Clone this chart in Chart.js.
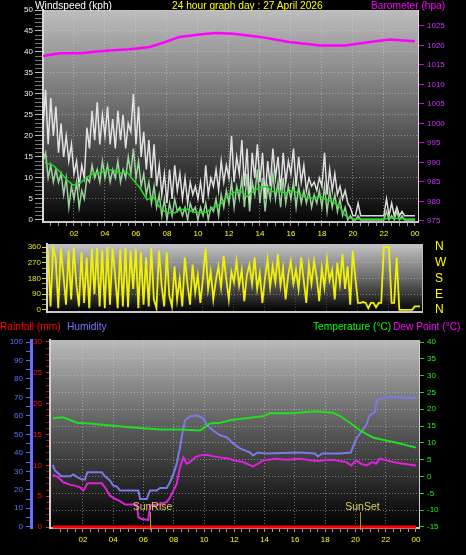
<!DOCTYPE html>
<html>
<head>
<meta charset="utf-8">
<script src="https://cdn.jsdelivr.net/npm/chart.js@4.4.1/dist/chart.umd.min.js"></script>
<style>
  body { margin: 0; background: #000; width: 466px; height: 555px; overflow: hidden; position: relative;
         font-family: "Liberation Sans", Arial, sans-serif; }
  canvas { position: absolute; left: 0; }
  .title { position: absolute; font-size: 10.2px; line-height: 11px; white-space: nowrap; }
</style>
</head>
<body>
<canvas id="wind-chart" width="466" height="245" style="top:0"></canvas>
<canvas id="dir-chart" width="466" height="80" style="top:238px"></canvas>
<canvas id="temp-chart" width="466" height="237" style="top:318px"></canvas>

<div class="title" style="left:35px;top:0;color:#fff">Windspeed (kph)</div>
<div class="title" style="left:172px;top:0;color:#ffff00">24 hour graph day : 27 April 2026</div>
<div class="title" style="left:371px;top:0;color:#ff00ff">Barometer (hpa)</div>
<div class="title" style="left:0;top:321px;color:#ff0000">Rainfall (mm)</div>
<div class="title" style="left:67px;top:321px;color:#7878ff">Humidity</div>
<div class="title" style="left:313px;top:321px;color:#00ff00">Temperature (°C)</div>
<div class="title" style="left:393px;top:321px;color:#ff00ff">Dew Point (°C)</div>

<script>
// ---- data (hours since midnight) ----
const hourTicks = [2, 4, 6, 8, 10, 12, 14, 16, 18, 20, 22, 24];
const hourLabels = ['02', '04', '06', '08', '10', '12', '14', '16', '18', '20', '22', '00'];

// wind samples every 10 minutes
const windStep = 1 / 6;
const windGust = [
    22, 31, 18, 29, 20, 27,  16, 23, 15, 20, 14, 18,  11, 14, 8, 13, 10, 22,  17, 26, 19, 28, 18, 25,
    20, 27, 18, 24, 17, 26,  19, 25, 17, 23, 21, 30,  18, 27, 15, 21, 12, 19,  10, 18, 8, 13, 6, 11,
    4, 12, 5, 13, 7, 11,     5, 10, 4, 9, 6, 8,       5, 9, 4, 13, 6, 10,      8, 12, 7, 14, 9, 13,
    10, 20, 9, 15, 11, 19,   8, 17, 4, 16, 10, 18,    9, 16, 5, 14, 8, 17,     10, 15, 7, 16, 9, 14,
    11, 17, 8, 15, 9, 13,    7, 10, 8, 9, 7, 10,      8, 16, 6, 12, 7, 11,     6, 8, 5, 7, 4, 3,
    1, 1, 4, 1, 1, 1,        1, 1, 1, 1, 1, 1,        1, 5, 1, 4, 1, 3,        1, 2, 1, 1, 1, 1,
    1
];
const windSpeed = [
    14, 16, 10, 13, 9, 12,   9, 11, 6, 10, 3, 8,      5, 9, 3, 7, 5, 10,       9, 13, 10, 12, 9, 14,
    10, 13, 9, 12, 10, 14,   9, 12, 10, 15, 11, 17,   10, 14, 8, 11, 6, 9,     4, 8, 3, 6, 1, 5,
    0, 4, 1, 5, 2, 3,        1, 3, 0, 4, 2, 3,        0, 3, 1, 4, 0, 3,        2, 5, 1, 6, 3, 7,
    4, 9, 3, 8, 5, 10,       3, 11, 2, 9, 6, 12,      4, 10, 2, 8, 5, 11,      5, 9, 3, 10, 4, 8,
    5, 9, 3, 8, 4, 7,        4, 7, 3, 6, 4, 7,        3, 8, 2, 7, 3, 6,        2, 5, 1, 3, 0, 1,
    0, 0, 1, 0, 0, 0,        0, 0, 0, 0, 0, 0,        0, 2, 0, 1, 0, 2,        0, 1, 0, 0, 0, 0,
    0
];
const avgHours = [0.13, 0.65, 1.1, 1.55, 1.94, 2.39, 2.84, 3.35, 3.68, 4.13, 4.52, 4.97, 5.42, 5.94, 6.26,
    6.71, 7.1, 7.55, 8, 8.52, 8.84, 9.29, 9.68, 10.13, 10.58, 10.97, 11.42, 11.87, 12.26, 12.7, 13.16,
    13.55, 14, 14.45, 14.84, 15.29, 15.74, 16.13, 16.58, 17.03, 17.42, 17.87, 18.32, 18.71, 19.16,
    19.35, 19.61, 20, 22, 22.5, 23, 24];
const avgSpeed = [13.6, 13, 11.4, 9.5, 8.3, 8.8, 10.2, 11.2, 11.2, 11.9, 11.9, 11.2, 11.4, 9, 7.6,
    4.8, 5.5, 2.9, 1.7, 1.7, 2.4, 2.6, 1.9, 1.7, 1.9, 2.9, 3.6, 5.5, 6.4, 7.1, 5.5,
    6.7, 7.9, 7.9, 6.7, 6.7, 6.4, 7.1, 6, 5.2, 5.2, 5.5, 4.8, 4.3, 3.1,
    1.7, 0.7, 0.2, 0.2, 0.5, 0.3, 0.2];
const baroHours = [0, 1.1, 2.4, 3.2, 4.3, 5.6, 6.9, 7.9, 8.8, 10.1, 11.1, 12.3, 14, 15.9, 17.9, 19.5, 21.1, 22.4, 24];
const baroHpa = [1017.3, 1018, 1018, 1018.3, 1018.7, 1019, 1019.6, 1020.9, 1022.2, 1022.8, 1023.2, 1023,
    1022.2, 1020.9, 1020, 1020, 1020.9, 1021.5, 1021.1];
const windTicks = [0, 5, 10, 15, 20, 25, 30, 35, 40, 45, 50];
const baroTicks = [975, 980, 985, 990, 995, 1000, 1005, 1010, 1015, 1020, 1025];

// wind direction every 10 minutes (degrees)
const windDir = [
    340, 20, 355, 300, 10, 350,   200, 30, 340, 60, 355, 150,   20, 330, 40, 300, 10, 350,
    90, 355, 20, 340, 10, 360,    30, 350, 200, 10, 345, 20,    355, 15, 340, 120, 350, 10,
    330, 30, 300, 20, 355, 60,    10, 340, 140, 20, 330, 80,    20, 250, 60, 180, 20, 300,
    150, 30, 260, 100, 200, 40,   180, 350, 120, 220, 60, 170,   250, 130, 310, 180, 60, 220,
    160, 280, 140, 230, 50, 200,  260, 150, 300, 120, 210, 40,   180, 290, 130, 250, 160, 320,
    140, 240, 60, 200, 280, 150,  230, 120, 300, 170, 40, 260,   150, 280, 190, 50, 240, 130,
    290, 170, 230, 60, 270, 150,  320, 120, 250, 30, 340, 180,   40, 40, 45, 40, 10, 40,
    40, 15, 40, 40, 360, 360,     360, 40, 40, 300, 0, 0,        0, 0, 0, 0, 20, 20,
    20
];
const dirTicks = [0, 90, 180, 270, 360];
const compassLabels = ['N', 'E', 'S', 'W', 'N'];

const humHours = [0, 0.15, 0.59, 1.14, 1.36, 1.63, 1.92, 2.13, 2.29, 3.24, 3.45, 3.78, 4.0, 4.23, 4.45, 5.66,
    5.77, 6.21, 6.43, 6.87, 7.09, 7.53, 7.75, 7.97, 8.19, 8.41, 8.52, 8.74, 9.07, 9.53, 9.93, 10.19,
    10.59, 11.05, 11.51, 11.91, 12.37, 13.03, 13.23, 13.56, 14.02, 16.33, 17.32, 17.52, 17.79, 18.98,
    19.7, 20.05, 20.71, 20.94, 21.27, 21.42, 21.6, 22.48, 24];
const humidity = [33.5, 30.4, 27.3, 27.3, 28.3, 26.8, 25.5, 25.5, 29.5, 29.5, 27.3, 25, 22.3, 21.7, 19.6, 19.6,
    15, 15, 19.6, 19.6, 21, 21, 24.1, 28.6, 34, 43, 48.5, 57.6, 59.8, 60.3, 58.7, 54.9,
    52.2, 49.5, 48.4, 45.1, 42.4, 40.2, 38.6, 40.2, 39.7, 40.2, 39.7, 38, 39.7, 39.7,
    40.2, 47.7, 54.9, 60.3, 62.1, 68.5, 69.4, 70.3, 69.6];
const tempHours = [0, 0.68, 1.6, 2.46, 3.12, 5.3, 7.09, 8.41, 9.73, 10.39, 11.05, 11.91, 13.89, 14.35, 15.87,
    17.32, 18.51, 18.98, 19.64, 20.3, 21.16, 22.02, 22.94, 24];
const temperature = [17.3, 17.6, 16, 15.8, 15.5, 14.6, 14, 14, 13.7, 15.8, 16, 16.9, 17.9, 18.8, 18.8,
    19.4, 19, 18, 16, 13.7, 11.6, 10.7, 9.8, 8.6];
const dewHours = [0, 0.37, 0.7, 1.14, 1.47, 1.8, 2.02, 2.13, 2.29, 3.24, 3.45, 3.78, 4.11, 4.45, 4.78, 5.55,
    5.66, 5.88, 6.32, 6.43, 6.98, 7.53, 7.75, 7.97, 8.19, 8.41, 8.63, 8.85, 9.07, 9.4, 9.73, 10.17,
    10.61, 11.05, 11.71, 11.91, 12.57, 13.23, 13.56, 13.89, 14.77, 15.43, 16.31, 17.41, 18.51, 19.39,
    19.72, 20.05, 20.38, 20.71, 21.15, 21.37, 21.6, 22.04, 22.48, 23.14, 24];
const dewPoint = [0.5, -0.2, -1.7, -2.4, -2.7, -3.2, -4.2, -3.4, -2, -2, -3.2, -5.7, -6.6, -7.3, -8.3, -8.3,
    -12.1, -12.6, -12.9, -8.6, -8.3, -7.6, -6.2, -4.2, -2.2, 2.8, 5.7, 3.8, 4.3, 5.7, 6.3, 6.5,
    6, 5.7, 5.3, 4.8, 4.3, 3, 3.8, 4.8, 5.3, 5, 5.3, 4.6, 5, 4.3,
    3.3, 4.8, 3.8, 3.3, 4.3, 3.8, 5.3, 4.8, 4.3, 3.8, 3.3];
const rainHours = [0, 24];
const rainfall = [0, 0];
const humTicks = [0, 10, 20, 30, 40, 50, 60, 70, 80, 90, 100];
const rainTicks = [0, 5, 10, 15, 20, 25, 30];
const tempTicks = [-15, -10, -5, 0, 5, 10, 15, 20, 25, 30, 35, 40];
const sunEvents = [
    { label: 'SunRise', hour: 6.43 },
    { label: 'SunSet', hour: 20.3 }
];

// ---- helpers ----
const FONT = { family: 'Liberation Sans', size: 8 };
const DOTS = 'rgba(220, 220, 220, 0.45)';

const pairs = (xs, ys) => ys.map((y, i) => ({ x: xs[i], y }));
const stepped = (step, ys) => ys.map((y, i) => ({ x: i * step, y }));

// major ticks with labels plus unlabeled minor ticks
function tickSet(majors, minorStep, from, to) {
    return scale => {
        const values = new Set(majors);
        if (minorStep) {
            for (let v = from; v <= to + 1e-9; v += minorStep) values.add(Math.round(v * 100) / 100);
        }
        scale.ticks = [...values].sort((a, b) => a - b).map(v => ({ value: v }));
    };
}
const isMajor = (majors, v) => majors.includes(v);

const plotBackground = {
    id: 'plotBackground',
    beforeDraw(chart, args, opts) {
        const { ctx, chartArea: a } = chart;
        const g = ctx.createLinearGradient(0, a.top, 0, a.bottom);
        opts.stops.forEach(([p, c]) => g.addColorStop(p, c));
        ctx.save();
        ctx.fillStyle = g;
        ctx.fillRect(a.left, a.top, a.right - a.left, a.bottom - a.top);
        ctx.restore();
    }
};

const sunMarkers = {
    id: 'sunMarkers',
    afterDatasetsDraw(chart) {
        const { ctx, chartArea: a, scales: { x } } = chart;
        ctx.save();
        sunEvents.forEach(ev => {
            const px = Math.round(x.getPixelForValue(ev.hour)) + 0.5;
            ctx.strokeStyle = '#a89a30';
            ctx.lineWidth = 1;
            ctx.beginPath();
            ctx.moveTo(px, a.bottom - 16);
            ctx.lineTo(px, a.bottom + 2);
            ctx.stroke();
            ctx.fillStyle = '#ddd060';
            ctx.font = '10.5px "Liberation Sans"';
            ctx.textAlign = 'center';
            ctx.textBaseline = 'middle';
            ctx.fillText(ev.label, px + 2, a.bottom - 21);
        });
        ctx.restore();
    }
};

function hourAxis(min, max, height) {
    return {
        type: 'linear',
        min: min,
        max: max,
        afterBuildTicks: tickSet(hourTicks, 0.5, 0.5, 24),
        afterFit: s => { s.height = height; },
        ticks: {
            autoSkip: false, maxRotation: 0, color: '#ffff00', font: FONT, padding: 3,
            callback: v => (isMajor(hourTicks, v) ? hourLabels[hourTicks.indexOf(v)] : '')
        },
        grid: {
            color: c => (c.tick && isMajor(hourTicks, c.tick.value) && c.tick.value < 24 ? DOTS : 'transparent'),
            tickColor: '#9a9a9a', tickLength: 4
        },
        border: { color: '#c8c8c8', width: 2, dash: [1, 2] }
    };
}

const baseOptions = {
    responsive: false,
    animation: false,
    events: [],
    elements: { point: { radius: 0 }, line: { tension: 0 } },
    plugins: { legend: { display: false }, tooltip: { enabled: false } }
};

// ---- wind speed + barometer ----
new Chart(document.getElementById('wind-chart'), {
    type: 'line',
    data: {
        datasets: [
            { data: pairs(baroHours, baroHpa), yAxisID: 'y1', borderColor: '#ff00ff', borderWidth: 2.5, order: 1 },
            { data: pairs(avgHours, avgSpeed), yAxisID: 'y', borderColor: '#22dd22', borderWidth: 1.5, order: 2 },
            { data: stepped(windStep, windSpeed), yAxisID: 'y', borderColor: 'rgba(175, 240, 175, 0.85)', borderWidth: 1.5, order: 3 },
            { data: stepped(windStep, windGust), yAxisID: 'y', borderColor: 'rgba(238, 238, 238, 0.92)', borderWidth: 1.5, order: 4 }
        ]
    },
    options: {
        ...baseOptions,
        layout: { padding: { top: 10 } },
        plugins: { ...baseOptions.plugins, plotBackground: { stops: [[0, '#bdbdbd'], [0.45, '#6e6e6e'], [1, '#060606']] } },
        scales: {
            x: hourAxis(0, 24.2, 23),
            y: {
                position: 'left', min: -0.5, max: 50,
                afterBuildTicks: tickSet(windTicks, 1, 0, 50),
                afterFit: s => { s.width = 43; },
                ticks: { autoSkip: false, color: '#e6ecff', font: FONT, padding: 2,
                         callback: v => (isMajor(windTicks, v) ? String(v) : '') },
                grid: { color: c => (c.tick && isMajor(windTicks, c.tick.value) && c.tick.value > 0 ? DOTS : 'transparent'),
                        tickColor: c => (c.tick && isMajor(windTicks, c.tick.value) ? '#bbbbbb' : '#777777'), tickLength: 8 },
                border: { color: '#d8d8d8', width: 2, dash: [1, 2] }
            },
            y1: {
                position: 'right', min: 974.7, max: 1029.1,
                afterBuildTicks: tickSet(baroTicks),
                afterFit: s => { s.width = 48; },
                ticks: { autoSkip: false, color: '#cc33ff', font: FONT, padding: 3, callback: v => String(v) },
                grid: { drawOnChartArea: false, tickColor: '#dd00dd', tickLength: 6 },
                border: { color: '#e6d0e6', width: 1 }
            }
        }
    },
    plugins: [plotBackground]
});

// ---- wind direction ----
new Chart(document.getElementById('dir-chart'), {
    type: 'line',
    data: {
        datasets: [
            { data: stepped(windStep, windDir), yAxisID: 'y', borderColor: '#f2f200', borderWidth: 1.8 }
        ]
    },
    options: {
        ...baseOptions,
        layout: { padding: { top: 6 } },
        plugins: { ...baseOptions.plugins, plotBackground: { stops: [[0, '#c4c4c4'], [0.5, '#6a6a6a'], [1, '#000000']] } },
        scales: {
            x: {
                type: 'linear', min: -0.06, max: 24.13,
                afterBuildTicks: tickSet(hourTicks),
                afterFit: s => { s.height = 6; },
                ticks: { display: false },
                grid: { color: c => (c.tick && c.tick.value < 24 ? 'rgba(220,220,220,0.25)' : 'transparent'), drawTicks: false },
                border: { color: '#c8c8c8', width: 2, dash: [1, 2] }
            },
            y: {
                position: 'left', min: -12, max: 378,
                afterBuildTicks: tickSet(dirTicks, 30, 0, 360),
                afterFit: s => { s.width = 47; },
                ticks: { autoSkip: false, color: '#e4e400', font: FONT, padding: 1,
                         callback: v => (isMajor(dirTicks, v) ? String(v) : '') },
                grid: { color: c => (c.tick && isMajor(dirTicks, c.tick.value) && c.tick.value > 0 ? DOTS : 'transparent'),
                        tickColor: c => (c.tick && isMajor(dirTicks, c.tick.value) ? '#e4e400' : '#9a9a00'), tickLength: 5 },
                border: { color: '#d8d8d8', width: 2, dash: [1, 2] }
            },
            y2: {
                position: 'right', min: -12, max: 378,
                afterBuildTicks: tickSet(dirTicks),
                afterFit: s => { s.width = 44; },
                ticks: { autoSkip: false, color: '#ffff00', font: { family: 'Liberation Sans', size: 12, lineHeight: 1 }, padding: 0,
                         callback: v => compassLabels[dirTicks.indexOf(v)] },
                grid: { drawOnChartArea: false, tickColor: 'transparent', tickLength: 13 },
                border: { color: '#bbbbbb', width: 1 }
            }
        }
    },
    plugins: [plotBackground]
});

// ---- rainfall, humidity, temperature, dew point ----
new Chart(document.getElementById('temp-chart'), {
    type: 'line',
    data: {
        datasets: [
            { data: pairs(rainHours, rainfall), yAxisID: 'yRain', borderColor: '#ff0000', borderWidth: 3, clip: false },
            { data: pairs(tempHours, temperature), yAxisID: 'yTemp', borderColor: '#22dd22', borderWidth: 2 },
            { data: pairs(dewHours, dewPoint), yAxisID: 'yTemp', borderColor: '#dd22dd', borderWidth: 2 },
            { data: pairs(humHours, humidity), yAxisID: 'yHum', borderColor: '#7a7ae6', borderWidth: 2 }
        ]
    },
    options: {
        ...baseOptions,
        layout: { padding: { top: 22 } },
        plugins: { ...baseOptions.plugins, plotBackground: { stops: [[0, '#bababa'], [0.5, '#555555'], [1, '#000000']] } },
        scales: {
            x: hourAxis(-0.18, 24.2, 27),
            yHum: {
                position: 'left', weight: 1, min: -0.7, max: 101.1,
                afterBuildTicks: tickSet(humTicks, 5, 0, 100),
                afterFit: s => { s.width = 31; },
                ticks: { autoSkip: false, color: '#5a78ff', font: FONT, padding: 3,
                         callback: v => (isMajor(humTicks, v) ? String(v) : '') },
                grid: { drawOnChartArea: false, tickColor: '#5a6aff', tickLength: 5 },
                border: { color: '#6c6cff', width: 3 }
            },
            yRain: {
                position: 'left', weight: 0, min: -0.16, max: 30.32,
                afterBuildTicks: tickSet(rainTicks, 1, 0, 30),
                afterFit: s => { s.width = 19; },
                ticks: { autoSkip: false, color: '#ff1010', font: FONT, padding: 4,
                         callback: v => (isMajor(rainTicks, v) ? String(v) : '') },
                grid: { drawOnChartArea: false, tickColor: c => (c.tick && isMajor(rainTicks, c.tick.value) ? '#ff2020' : '#aa1010'), tickLength: 4 },
                border: { color: '#d0d0d0', width: 2 }
            },
            yTemp: {
                position: 'right', min: -15.3, max: 40.6,
                afterBuildTicks: tickSet(tempTicks),
                afterFit: s => { s.width = 47; },
                ticks: { autoSkip: false, color: '#22ee22', font: FONT, padding: 3 },
                grid: { color: c => (c.tick && c.tick.value > -15 && c.tick.value < 40 ? DOTS : 'transparent'),
                        tickColor: '#22cc22', tickLength: 5 },
                border: { color: '#d0d0d0', width: 1, dash: [1, 2] }
            }
        }
    },
    plugins: [plotBackground, sunMarkers]
});
</script>
</body>
</html>
